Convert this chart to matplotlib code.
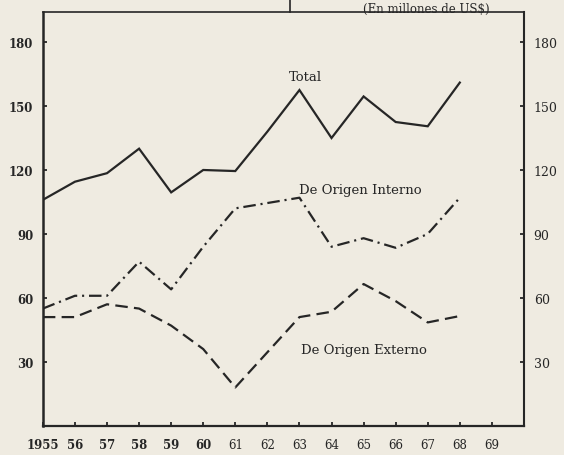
import matplotlib
matplotlib.use("Agg")
import matplotlib.pyplot as plt
from matplotlib.lines import Line2D

years = [1955, 1956, 1957, 1958, 1959, 1960, 1961, 1962, 1963, 1964, 1965, 1966, 1967, 1968]
total = [106, 114.5, 118.5, 130, 109.5, 120, 119.5, 138, 157.5, 135, 154.5, 142.5, 140.5, 161]
interno = [55, 61, 61, 77, 64, 84, 102, 104.5, 107, 84, 88, 83.5, 90, 107]
externo = [51, 51, 57, 55, 47, 36, 18, 34.5, 51, 53.5, 66.5, 58.5, 48.5, 51.5]

yticks = [30, 60, 90, 120, 150, 180]
xtick_years = list(range(1955, 1970))
xtick_labels = ["1955", "56", "57", "58", "59", "60", "61", "62", "63", "64",
                "65", "66", "67", "68", "69"]
title_text = "(En millones de US$)"

plt.rcParams['lines.scale_dashes'] = False
bg = '#efebe1'
ink = '#262626'

fig = plt.figure(figsize=(5.64, 4.56), dpi=100, facecolor=bg)
ax = fig.add_axes([0.076, 0.064, 0.853, 0.907], facecolor=bg)

ax.plot(years, total, color=ink, lw=1.6, solid_joinstyle='miter')
ax.plot(years, interno, color=ink, lw=1.6, dashes=[9, 3.5, 1.5, 3.5])
ax.plot(years, externo, color=ink, lw=1.6, dashes=[9, 4.5])

ax.set_xlim(1955, 1970)
ax.set_ylim(0, 194)

for side, w in [('left', 1.8), ('right', 1.5), ('top', 1.2), ('bottom', 1.6)]:
    ax.spines[side].set_color(ink)
    ax.spines[side].set_linewidth(w)

ax.set_yticks(yticks)
ax.set_yticklabels([str(v) for v in yticks])
ax.tick_params(axis='y', which='both', direction='in', length=3, width=1.3, color=ink,
               left=True, right=True, labelleft=True, labelright=True, pad=7)
for t in ax.yaxis.get_major_ticks():
    t.label2.set_fontfamily('DejaVu Serif')
    t.label2.set_fontweight('normal')
    t.label2.set_fontsize(9)
    t.label2.set_color(ink)
    t.label1.set_fontfamily('DejaVu Serif')
    t.label1.set_fontweight('bold')
    t.label1.set_fontsize(8.5)
    t.label1.set_color(ink)

ax.set_xticks(xtick_years)
ax.set_xticklabels(xtick_labels)
ax.tick_params(axis='x', direction='in', length=3, width=1.3, color=ink, pad=9)
for i, lab in enumerate(ax.get_xticklabels()):
    lab.set_fontfamily('DejaVu Serif')
    lab.set_fontsize(8.5)
    lab.set_color(ink)
    lab.set_fontweight('bold' if i < 6 else 'normal')

ax.text(1963.2, 164, "Total", family='DejaVu Serif', fontsize=9.5, color=ink,
        ha='center', va='center')
ax.text(1964.9, 111, "De Origen Interno", family='DejaVu Serif', fontsize=9.5, color=ink,
        ha='center', va='center')
ax.text(1965.0, 36, "De Origen Externo", family='DejaVu Serif', fontsize=9.5, color=ink,
        ha='center', va='center')

fig.text(0.756, 1 - 12.5 / 456, title_text, family='DejaVu Serif', fontsize=8.5, color=ink,
         ha='center', va='baseline')
fig.add_artist(Line2D([290 / 564, 290 / 564], [1.0, 1 - 13 / 456], transform=fig.transFigure,
                      color=ink, lw=1.2))

fig.savefig("out.png", dpi=100, facecolor=bg)
